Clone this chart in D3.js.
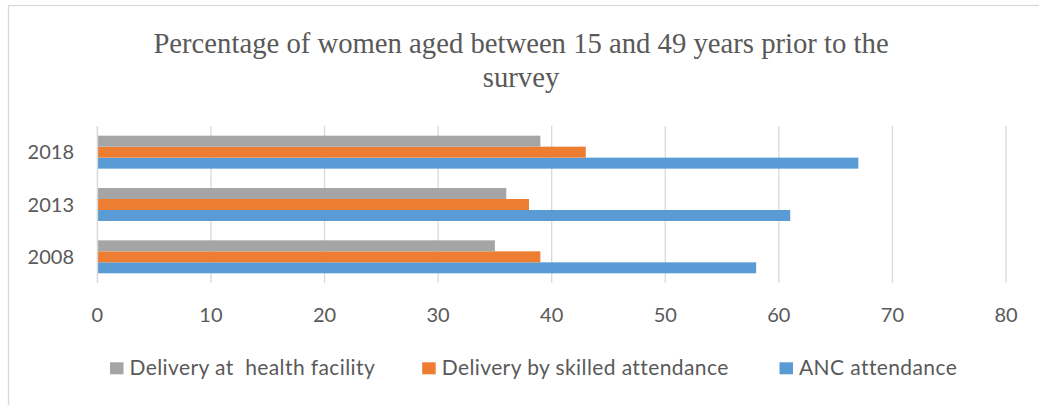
<!DOCTYPE html>
<html>
<head>
<meta charset="utf-8">
<script src="https://cdn.jsdelivr.net/npm/d3@7"></script>
<style>
  html, body { margin: 0; padding: 0; background: #fff; }
  svg { display: block; }
</style>
</head>
<body>
<svg id="chart" width="1039" height="405"></svg>
<script>
const categories = ["2008", "2013", "2018"];
const seriesNames = ["ANC attendance", "Delivery by skilled attendance", "Delivery at  health facility"];
const ancValues = [58, 61, 67];
const skilledValues = [39, 38, 43];
const facilityValues = [35, 36, 39];
const xTicks = [0, 10, 20, 30, 40, 50, 60, 70, 80];
const titleLines = ["Percentage of women aged between 15 and 49 years prior to the", "survey"];
const colors = ["#5b9bd5", "#ed7d31", "#a5a5a5"];

const series = [ancValues, skilledValues, facilityValues];

const svg = d3.select("#chart");
const W = 1039, H = 405;

// outer chart border
svg.append("rect")
  .attr("x", 8.5).attr("y", 5.5)
  .attr("width", W + 10).attr("height", H + 10)
  .attr("fill", "#fff").attr("stroke", "#d9d9d9").attr("stroke-width", 1.3);

// title
const title = svg.append("text")
  .attr("text-anchor", "middle")
  .attr("font-family", "'Liberation Serif', 'Times New Roman', serif")
  .attr("font-size", 28.7)
  .attr("fill", "#595959");
titleLines.forEach((t, i) => {
  title.append("tspan").attr("x", 521).attr("y", 52.5 + i * 34).text(t);
});

const plot = { left: 97.4, right: 1006, top: 126, bottom: 283 };

const x = d3.scaleLinear().domain([0, 80]).range([plot.left, plot.right]);
const y = d3.scaleBand().domain(categories.slice().reverse())
  .range([plot.top, plot.bottom]).paddingInner(0.37).paddingOuter(0.185);
// top-to-bottom within group: facility, skilled, ANC
const sub = d3.scaleBand().domain([2, 1, 0]).range([0, y.bandwidth()]);

// gridlines
svg.append("g").selectAll("line").data(xTicks.slice(1)).join("line")
  .attr("x1", d => x(d)).attr("x2", d => x(d))
  .attr("y1", plot.top).attr("y2", plot.bottom)
  .attr("stroke", "#d9d9d9").attr("stroke-width", 1.3);

// bars
categories.forEach((c, ci) => {
  series.forEach((vals, si) => {
    svg.append("rect")
      .attr("x", x(0))
      .attr("y", y(c) + sub(si))
      .attr("width", x(vals[ci]) - x(0))
      .attr("height", sub.bandwidth())
      .attr("fill", colors[si]);
  });
});

// category axis line
svg.append("line")
  .attr("x1", x(0)).attr("x2", x(0))
  .attr("y1", plot.top).attr("y2", plot.bottom)
  .attr("stroke", "#d9d9d9").attr("stroke-width", 1.5);

const font = "Lato, 'Open Sans', sans-serif";

// x tick labels
svg.append("g").selectAll("text").data(xTicks).join("text")
  .attr("x", d => x(d)).attr("y", 321.5)
  .attr("text-anchor", "middle")
  .attr("font-family", font).attr("font-size", 20)
  .attr("fill", "#595959")
  .text(d => d);

// y labels
svg.append("g").selectAll("text").data(categories).join("text")
  .attr("x", 74).attr("y", d => y(d) + y.bandwidth() / 2 + 7.2)
  .attr("text-anchor", "end")
  .attr("font-family", font).attr("font-size", 20)
  .attr("fill", "#595959")
  .text(d => d);

// legend
const legendItems = [
  { name: seriesNames[2], color: colors[2], x: 110 },
  { name: seriesNames[1], color: colors[1], x: 422.2 },
  { name: seriesNames[0], color: colors[0], x: 779.5 }
];
const lg = svg.append("g");
legendItems.forEach(it => {
  lg.append("rect").attr("x", it.x).attr("y", 362.3)
    .attr("width", 13.5).attr("height", 12).attr("fill", it.color);
  lg.append("text").attr("x", it.x + 19.5).attr("y", 374.5)
    .attr("font-family", font).attr("font-size", 21)
    .attr("letter-spacing", 0.4)
    .attr("fill", "#595959").attr("xml:space", "preserve")
    .style("white-space", "pre")
    .text(it.name);
});
</script>
</body>
</html>
